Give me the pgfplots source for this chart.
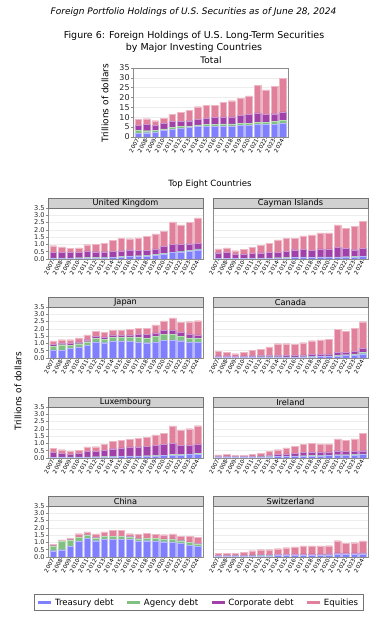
\documentclass[border=0pt]{standalone}
\usepackage{pgfplots}
\pgfplotsset{compat=1.18}
\usepackage{pgfplotstable}
\usepackage{fontspec}
\setmainfont{DejaVu Sans}

\definecolor{cT}{HTML}{8080FF}
\definecolor{cA}{HTML}{80C080}
\definecolor{cC}{HTML}{A040A8}
\definecolor{cE}{HTML}{E0809A}
\definecolor{frame}{HTML}{8C8C8C}

% Trillions of dollars, 2007..2024 (June), columns: Treasury, Agency, Corporate, Equities
\pgfplotstableread{
T A C E
2.0 1.3 2.5 3.3
2.2 1.0 3.1 3.0
2.6 0.7 2.6 2.4
3.3 0.8 2.7 2.8
4.0 0.9 2.9 3.7
4.5 0.9 2.7 4.3
4.9 0.8 2.6 5.2
5.3 0.8 3.0 6.3
5.5 0.9 3.1 6.7
5.4 1.0 3.6 6.2
5.6 1.0 3.6 7.4
5.6 1.0 3.6 8.2
5.8 1.1 4.1 8.6
6.0 1.0 4.5 9.3
6.4 1.1 4.7 14.0
6.3 1.2 4.0 12.4
6.5 1.3 4.0 13.9
7.0 1.4 4.3 17.1
}\tblTotal

\pgfplotstableread{
T A C E
0.05 0.03 0.37 0.46
0.05 0.03 0.40 0.36
0.05 0.03 0.40 0.27
0.06 0.03 0.39 0.29
0.07 0.03 0.45 0.43
0.08 0.03 0.39 0.50
0.09 0.03 0.38 0.59
0.10 0.03 0.39 0.75
0.15 0.03 0.39 0.84
0.18 0.03 0.43 0.75
0.20 0.03 0.38 0.84
0.22 0.03 0.36 0.94
0.28 0.03 0.39 1.03
0.35 0.03 0.51 1.02
0.45 0.03 0.52 1.55
0.50 0.04 0.46 1.34
0.55 0.04 0.46 1.47
0.64 0.05 0.40 1.73
}\tblUK

\pgfplotstableread{
T A C E
0.04 0.02 0.37 0.27
0.04 0.02 0.39 0.32
0.04 0.02 0.28 0.23
0.04 0.02 0.30 0.30
0.05 0.02 0.34 0.41
0.05 0.02 0.36 0.52
0.06 0.02 0.37 0.64
0.07 0.02 0.39 0.84
0.08 0.02 0.42 0.89
0.10 0.02 0.52 0.77
0.10 0.02 0.54 0.93
0.11 0.02 0.48 1.05
0.12 0.02 0.56 1.10
0.12 0.02 0.56 1.10
0.13 0.02 0.65 1.54
0.14 0.02 0.57 1.36
0.15 0.02 0.47 1.59
0.18 0.02 0.53 1.86
}\tblCayman

\pgfplotstableread{
T A C E
0.56 0.23 0.14 0.24
0.56 0.35 0.09 0.26
0.65 0.24 0.11 0.26
0.77 0.21 0.12 0.28
0.86 0.26 0.14 0.33
1.10 0.25 0.14 0.35
1.05 0.23 0.17 0.30
1.17 0.25 0.17 0.32
1.17 0.25 0.14 0.33
1.14 0.31 0.14 0.39
1.10 0.30 0.21 0.42
1.05 0.33 0.23 0.42
1.10 0.37 0.26 0.55
1.21 0.42 0.26 0.65
1.24 0.39 0.30 0.82
1.19 0.28 0.28 0.72
1.10 0.28 0.28 0.83
1.07 0.28 0.24 0.97
}\tblJapan

\pgfplotstableread{
T A C E
0.04 0.01 0.10 0.29
0.05 0.01 0.10 0.24
0.05 0.01 0.08 0.16
0.06 0.01 0.08 0.25
0.07 0.01 0.08 0.38
0.08 0.01 0.09 0.43
0.08 0.01 0.09 0.59
0.08 0.01 0.10 0.79
0.07 0.01 0.11 0.79
0.07 0.01 0.12 0.73
0.08 0.01 0.13 0.83
0.09 0.02 0.13 0.95
0.10 0.02 0.14 0.98
0.12 0.02 0.15 0.99
0.15 0.04 0.20 1.59
0.18 0.05 0.18 1.43
0.22 0.06 0.20 1.57
0.30 0.10 0.25 1.84
}\tblCanada

\pgfplotstableread{
T A C E
0.03 0.03 0.34 0.26
0.04 0.03 0.26 0.24
0.04 0.03 0.21 0.19
0.05 0.02 0.26 0.21
0.06 0.02 0.37 0.31
0.07 0.02 0.36 0.33
0.08 0.02 0.44 0.41
0.09 0.02 0.53 0.49
0.10 0.02 0.57 0.52
0.11 0.03 0.62 0.54
0.12 0.03 0.63 0.57
0.13 0.03 0.64 0.62
0.15 0.03 0.69 0.71
0.17 0.03 0.75 0.75
0.20 0.04 0.75 1.21
0.22 0.04 0.59 1.04
0.24 0.04 0.62 1.11
0.27 0.05 0.65 1.25
}\tblLux

\pgfplotstableread{
T A C E
0.05 0.02 0.08 0.06
0.05 0.02 0.07 0.10
0.05 0.02 0.05 0.05
0.05 0.02 0.05 0.07
0.06 0.02 0.07 0.09
0.07 0.02 0.06 0.16
0.09 0.02 0.11 0.23
0.10 0.02 0.13 0.32
0.11 0.02 0.15 0.41
0.13 0.02 0.19 0.46
0.14 0.02 0.22 0.54
0.15 0.02 0.21 0.64
0.16 0.03 0.23 0.55
0.18 0.03 0.21 0.55
0.20 0.03 0.27 0.82
0.20 0.03 0.25 0.75
0.21 0.03 0.21 0.87
0.25 0.03 0.22 1.18
}\tblIreland

\pgfplotstableread{
T A C E
0.43 0.33 0.02 0.09
0.50 0.56 0.02 0.09
0.73 0.44 0.02 0.09
1.08 0.27 0.02 0.23
1.30 0.21 0.02 0.19
1.12 0.19 0.02 0.25
1.21 0.19 0.02 0.30
1.21 0.19 0.02 0.39
1.24 0.18 0.02 0.39
1.21 0.17 0.02 0.20
1.10 0.16 0.02 0.28
1.12 0.16 0.02 0.32
1.10 0.18 0.02 0.26
1.05 0.17 0.02 0.29
1.03 0.19 0.02 0.34
0.94 0.18 0.02 0.30
0.82 0.19 0.02 0.41
0.73 0.17 0.02 0.43
}\tblChina

\pgfplotstableread{
T A C E
0.06 0.01 0.06 0.14
0.06 0.01 0.06 0.12
0.07 0.01 0.04 0.13
0.07 0.01 0.05 0.21
0.08 0.01 0.06 0.28
0.09 0.01 0.06 0.34
0.09 0.01 0.06 0.34
0.10 0.01 0.06 0.40
0.11 0.01 0.06 0.46
0.12 0.01 0.07 0.49
0.12 0.01 0.08 0.55
0.12 0.01 0.08 0.55
0.13 0.01 0.08 0.54
0.14 0.01 0.08 0.55
0.18 0.01 0.09 0.84
0.18 0.01 0.09 0.68
0.18 0.01 0.09 0.70
0.20 0.01 0.09 0.80
}\tblSwiss

\pgfplotsset{
  base/.style={
    scale only axis, ybar stacked, bar width=0.78,
    xmin=-0.6, xmax=17.6, ymin=0,
    xtick={0,...,17},
    xticklabels={2007,2008,2009,2010,2011,2012,2013,2014,2015,2016,2017,2018,2019,2020,2021,2022,2023,2024},
    axis line style={frame, line width=0.6pt},
    ymajorgrids, grid style={black!7, line width=0.5pt},
    tick align=outside, xtick pos=bottom, ytick pos=left,
    major tick length=2pt, tick style={frame, line width=0.5pt},
    x tick label style={rotate=60, anchor=east, font=\fontsize{5.6}{6}\selectfont, inner sep=0.6pt},
    y tick label style={font=\fontsize{6.6}{7}\selectfont, inner sep=1.2pt, text=black!85},
  },
  panel/.style={base, anchor=south west, width=155pt, height=51pt, ymax=3.5,
    ytick={0,0.5,1,1.5,2,2.5,3,3.5},
    yticklabels={0.0,0.5,1.0,1.5,2.0,2.5,3.0,3.5}},
  noy/.style={yticklabels={}, ytick style={draw=none}},
  barT/.style={fill=cT, draw=cT!55!white, line width=0.25pt},
  barA/.style={fill=cA, draw=cA!55!white, line width=0.25pt},
  barC/.style={fill=cC, draw=cC!55!white, line width=0.25pt},
  barE/.style={fill=cE, draw=cE!55!white, line width=0.25pt},
}

\tikzset{strip/.style={fill=black!18, draw=black!55, line width=0.6pt}}

\newcommand{\panel}[6]{%
\begin{axis}[panel, name=#1, at={(#3pt,#4pt)}, #6]
\addplot[barT] table[x expr=\coordindex, y=T]{#2};
\addplot[barA] table[x expr=\coordindex, y=A]{#2};
\addplot[barC] table[x expr=\coordindex, y=C]{#2};
\addplot[barE] table[x expr=\coordindex, y=E]{#2};
\end{axis}
\draw[strip] (#1.north west) rectangle ([yshift=10pt]#1.north east);
\path (#1.north) ++(0,5pt) node[font=\fontsize{8.2}{9}\selectfont, inner sep=0pt]{#5};
}

\begin{document}
\begin{tikzpicture}
\path[use as bounding box] (0,0) rectangle (387pt,624pt);

\node[font=\fontsize{9}{10}\selectfont\itshape] at (193.5pt,612pt) {Foreign Portfolio Holdings of U.S. Securities as of June 28, 2024};
\node[align=center, font=\fontsize{9.5}{12}\selectfont] at (194pt,582pt) {Figure 6: Foreign Holdings of U.S. Long-Term Securities\\by Major Investing Countries};
\node[font=\fontsize{9}{10}\selectfont] at (211pt,564pt) {Total};
\node[rotate=90, font=\fontsize{9}{10}\selectfont] at (105pt,521pt) {Trillions of dollars};
\node[font=\fontsize{8.6}{10}\selectfont] at (210pt,440pt) {Top Eight Countries};
\node[rotate=90, font=\fontsize{9}{10}\selectfont] at (18pt,233pt) {Trillions of dollars};

\begin{axis}[base, anchor=south west, at={(133pt,487pt)}, width=155pt, height=69pt, ymax=35,
  ytick={0,5,10,15,20,25,30,35}, yticklabels={0,5,10,15,20,25,30,35},
  y tick label style={font=\fontsize{8}{8}\selectfont}]
\addplot[barT] table[x expr=\coordindex, y=T]{\tblTotal};
\addplot[barA] table[x expr=\coordindex, y=A]{\tblTotal};
\addplot[barC] table[x expr=\coordindex, y=C]{\tblTotal};
\addplot[barE] table[x expr=\coordindex, y=E]{\tblTotal};
\end{axis}

\panel{uk}{\tblUK}{48}{365}{United Kingdom}{}
\panel{cay}{\tblCayman}{213}{365}{Cayman Islands}{noy}
\panel{jp}{\tblJapan}{48}{266}{Japan}{}
\panel{ca}{\tblCanada}{213}{266}{Canada}{noy}
\panel{lu}{\tblLux}{48}{166}{Luxembourg}{}
\panel{ie}{\tblIreland}{213}{166}{Ireland}{noy}
\panel{cn}{\tblChina}{48}{67}{China}{}
\panel{ch}{\tblSwiss}{213}{67}{Switzerland}{noy}

\begin{axis}[hide axis, scale only axis, anchor=center, at={(198.5pt,21.5pt)},
  width=10pt, height=10pt, xmin=0, xmax=1, ymin=0, ymax=1,
  legend columns=4,
  legend style={at={(0.5,0.5)}, anchor=center, draw=black!55, line width=0.6pt,
    font=\fontsize{8.6}{10}\selectfont, inner xsep=3pt, inner ysep=2pt,
    /tikz/every even column/.append style={column sep=10pt}},
  legend image code/.code={\draw[line width=3.2pt,#1] (0pt,0pt) -- (13pt,0pt);}]
\addlegendimage{color=cT}\addlegendentry{Treasury debt}
\addlegendimage{color=cA}\addlegendentry{Agency debt}
\addlegendimage{color=cC}\addlegendentry{Corporate debt}
\addlegendimage{color=cE}\addlegendentry{Equities}
\end{axis}
\end{tikzpicture}
\end{document}
